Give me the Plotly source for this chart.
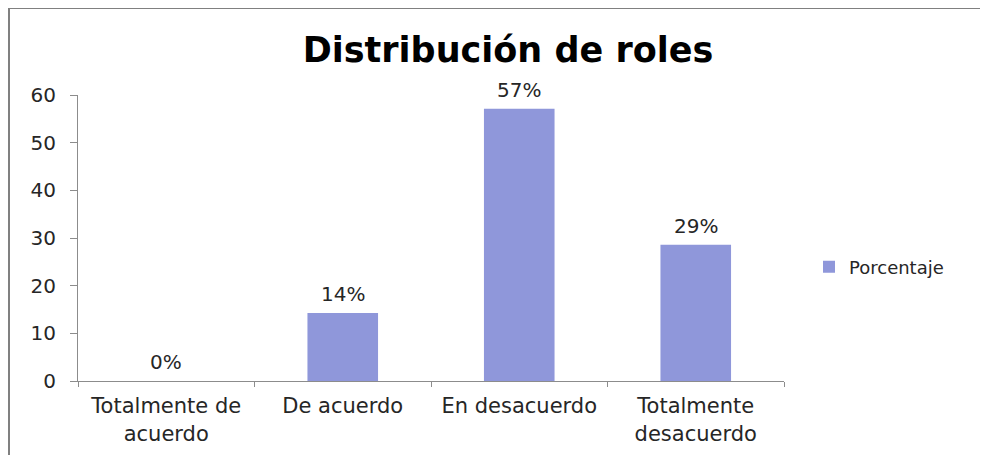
import plotly.graph_objects as go

categories = ["Totalmente de<br>acuerdo", "De acuerdo", "En desacuerdo", "Totalmente<br>desacuerdo"]
values = [0, 14.29, 57.14, 28.57]
labels = ["0%", "14%", "57%", "29%"]
series_name = "Porcentaje"
y_ticks = [0, 10, 20, 30, 40, 50, 60]

# page body has an 8px margin; figure is sized/offset to compensate
OFF = 8
W, H = 988 - OFF, 455 - OFF
L, T = 78 - OFF, 95 - OFF
PR, PB = 784 - OFF, 381 - OFF
R, B = W - PR, H - PB
pw, ph = PR - L, PB - T

FONT = "DejaVu Sans"
TXT = "#262626"

fig = go.Figure()
fig.add_trace(go.Bar(
    x=categories, y=values, name=series_name,
    marker=dict(color="#8F97DA", line=dict(width=0)),
    width=0.4, cliponaxis=False,
))

for c, v, t in zip(categories, values, labels):
    fig.add_annotation(x=c, y=v, xref="x", yref="y", text=t, showarrow=False,
                       yanchor="middle", xanchor="center", yshift=19,
                       font=dict(family=FONT, size=20, color=TXT))

fig.update_layout(
    width=W, height=H,
    margin=dict(l=L, r=R, t=T, b=B, autoexpand=False),
    paper_bgcolor="white", plot_bgcolor="white",
    title=dict(text="<b>Distribución de roles</b>", x=(508 - OFF) / W, xanchor="center",
               y=1 - (50 - OFF) / H, yanchor="middle",
               font=dict(family=FONT, size=35, color="#000000")),
    showlegend=True,
    legend=dict(x=(809 - OFF - L) / pw, y=(PB - (267 - OFF)) / ph, xanchor="left", yanchor="middle",
                font=dict(family=FONT, size=18, color=TXT),
                itemwidth=30, bgcolor="rgba(0,0,0,0)"),
    font=dict(family=FONT, size=20, color=TXT),
)

fig.update_xaxes(
    showline=True, linecolor="#8c8c8c", linewidth=1,
    ticks="outside", tickcolor="#8c8c8c", ticklen=5,
    ticklabelstandoff=6, automargin=False,
    showgrid=False, tickson="boundaries",
    tickfont=dict(family=FONT, size=21, color=TXT),
)
fig.update_yaxes(
    range=[0, 60], tickvals=y_ticks,
    showline=True, linecolor="#8c8c8c", linewidth=1,
    ticks="outside", tickcolor="#8c8c8c", ticklen=7,
    ticklabelstandoff=10, automargin=False,
    showgrid=False, zeroline=False,
    tickfont=dict(family=FONT, size=20, color=TXT),
)

fig.add_shape(type="rect", xref="paper", yref="paper",
              x0=(1 - L) / pw, x1=(W + 20 - L) / pw,
              y0=(PB - (H + 20)) / ph, y1=(PB - 0) / ph,
              line=dict(color="#808080", width=2), fillcolor="rgba(0,0,0,0)", layer="below")

fig.write_html("out.html")
